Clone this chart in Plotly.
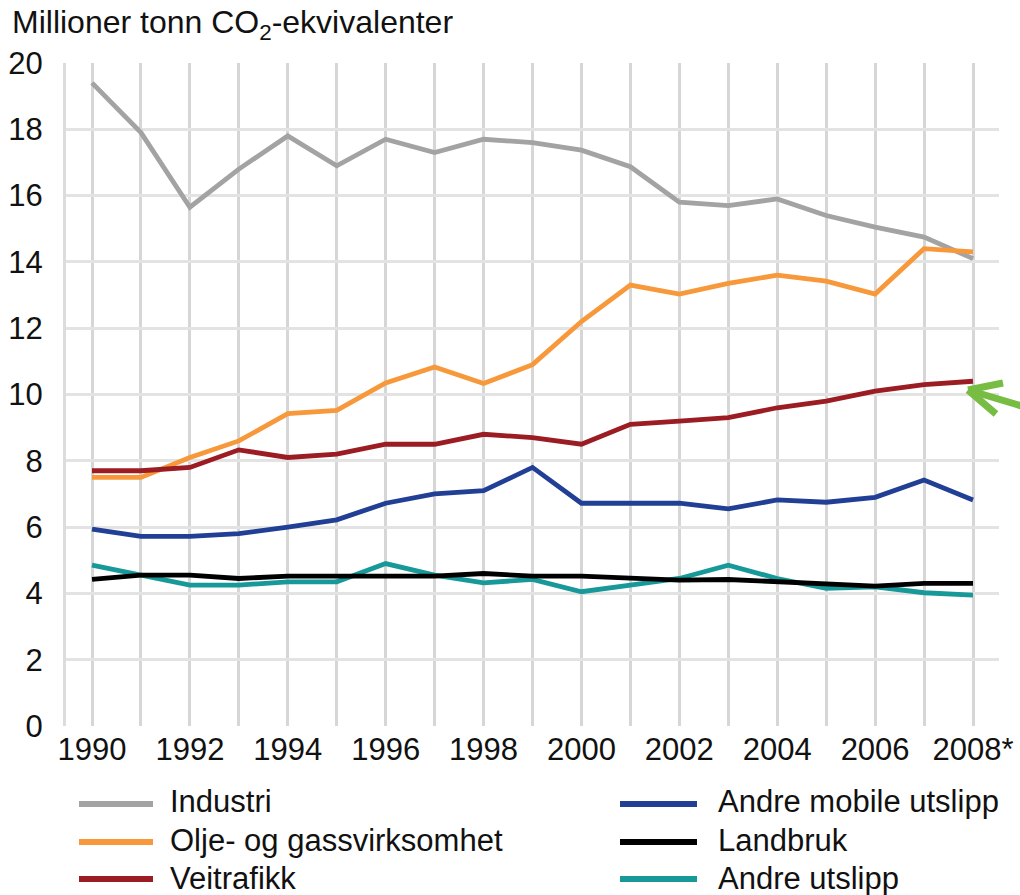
import plotly.graph_objects as go

years = list(range(1990, 2009))
tick_labels = ["1990", "", "1992", "", "1994", "", "1996", "", "1998", "", "2000", "", "2002", "",
               "2004", "", "2006", "", "2008*"]

industri = [19.4, 17.9, 15.65, 16.8, 17.8, 16.9, 17.7, 17.3, 17.7, 17.6, 17.37, 16.87, 15.8, 15.7,
            15.9, 15.4, 15.05, 14.75, 14.1]
olje_gass = [7.5, 7.5, 8.1, 8.6, 9.42, 9.52, 10.35, 10.83, 10.33, 10.9, 12.2, 13.3, 13.03, 13.35,
             13.6, 13.42, 13.03, 14.4, 14.3]
veitrafikk = [7.7, 7.7, 7.8, 8.33, 8.1, 8.2, 8.5, 8.5, 8.8, 8.7, 8.5, 9.1, 9.2, 9.3,
              9.6, 9.8, 10.1, 10.3, 10.4]
andre_mobile = [5.94, 5.72, 5.72, 5.8, 6.0, 6.22, 6.72, 7.0, 7.1, 7.8, 6.72, 6.72, 6.72, 6.55,
                6.82, 6.75, 6.9, 7.42, 6.82]
landbruk = [4.42, 4.55, 4.55, 4.45, 4.52, 4.52, 4.52, 4.52, 4.6, 4.52, 4.52, 4.45, 4.4, 4.42,
            4.35, 4.3, 4.22, 4.3, 4.3]
andre_utslipp = [4.85, 4.55, 4.25, 4.25, 4.35, 4.35, 4.9, 4.55, 4.32, 4.42, 4.05, 4.25, 4.45, 4.85,
                 4.45, 4.15, 4.2, 4.02, 3.95]

names = ["Industri", "Olje- og gassvirksomhet", "Veitrafikk",
         "Andre mobile utslipp", "Landbruk", "Andre utslipp"]
colors = ["#a3a3a3", "#f7993a", "#9b1c22", "#213f95", "#000000", "#17999a"]
series = [industri, olje_gass, veitrafikk, andre_mobile, landbruk, andre_utslipp]

FONT = "Liberation Sans, Arial, sans-serif"
W, H = 1020, 895
L, R, T, B = 66, 999, 63, 726


def px(x):
    return (x - L) / (R - L)


def py(y):
    return (B - y) / (B - T)


fig = go.Figure()
draw_order = [0, 1, 2, 3, 5, 4]
for i in draw_order:
    fig.add_trace(go.Scatter(x=years, y=series[i], mode="lines", name=names[i],
                             line=dict(color=colors[i], width=4.8), showlegend=False))

# manual legend
rows_y = [804, 842, 879]
text_y = [801, 840, 878]
cols = [(79, 153, 168), (620, 697, 716)]
shapes = []
annotations = []
for k, nm in enumerate(names):
    c = k // 3
    r = k % 3
    x0, x1, xt = cols[c]
    shapes.append(dict(type="line", xref="paper", yref="paper",
                       x0=px(x0), x1=px(x1), y0=py(rows_y[r]), y1=py(rows_y[r]),
                       line=dict(color=colors[k], width=6)))
    annotations.append(dict(text=nm, xref="paper", yref="paper", x=px(xt), y=py(text_y[r]),
                            xanchor="left", yanchor="middle", showarrow=False,
                            font=dict(family=FONT, size=31, color="#111111")))

# green arrow
green = "#78bd43"
tip = (968, 390)
for end in [(1003, 383), (996, 414), (1025, 407)]:
    shapes.append(dict(type="line", xref="paper", yref="paper",
                       x0=px(tip[0]), y0=py(tip[1]), x1=px(end[0]), y1=py(end[1]),
                       line=dict(color=green, width=7)))

fig.update_layout(
    width=W, height=H,
    margin=dict(l=L, r=W - R, t=T, b=H - B, autoexpand=False),
    paper_bgcolor="white", plot_bgcolor="white",
    title=dict(text="Millioner tonn CO<sub>2</sub>-ekvivalenter", x=12 / W, xanchor="left",
               xref="container", yref="container", y=1 - 11 / H, yanchor="top",
               font=dict(family=FONT, size=32, color="#111111")),
    shapes=shapes, annotations=annotations,
    xaxis=dict(range=[1990 - (92 - L) / 48.94, 2008 + (R - 973) / 48.94],
               tickmode="array", tickvals=years, ticktext=tick_labels,
               showgrid=True, gridcolor="#d6d6d6", gridwidth=2.5,
               zeroline=False, showline=False, ticks="", automargin=False,
               tickfont=dict(family=FONT, size=31, color="#111111"),
               ticklabelstandoff=2),
    yaxis=dict(range=[0, 20], tickmode="array", tickvals=list(range(0, 21, 2)),
               showgrid=True, gridcolor="#e3e3e3", gridwidth=3, automargin=False,
               zeroline=False, showline=True, linecolor="#dcdcdc", linewidth=3,
               ticks="", ticklabelstandoff=14,
               tickfont=dict(family=FONT, size=31, color="#111111")),
)

fig.write_html("out.html", config={"displayModeBar": False},
               post_script="document.body.style.margin='0';")
